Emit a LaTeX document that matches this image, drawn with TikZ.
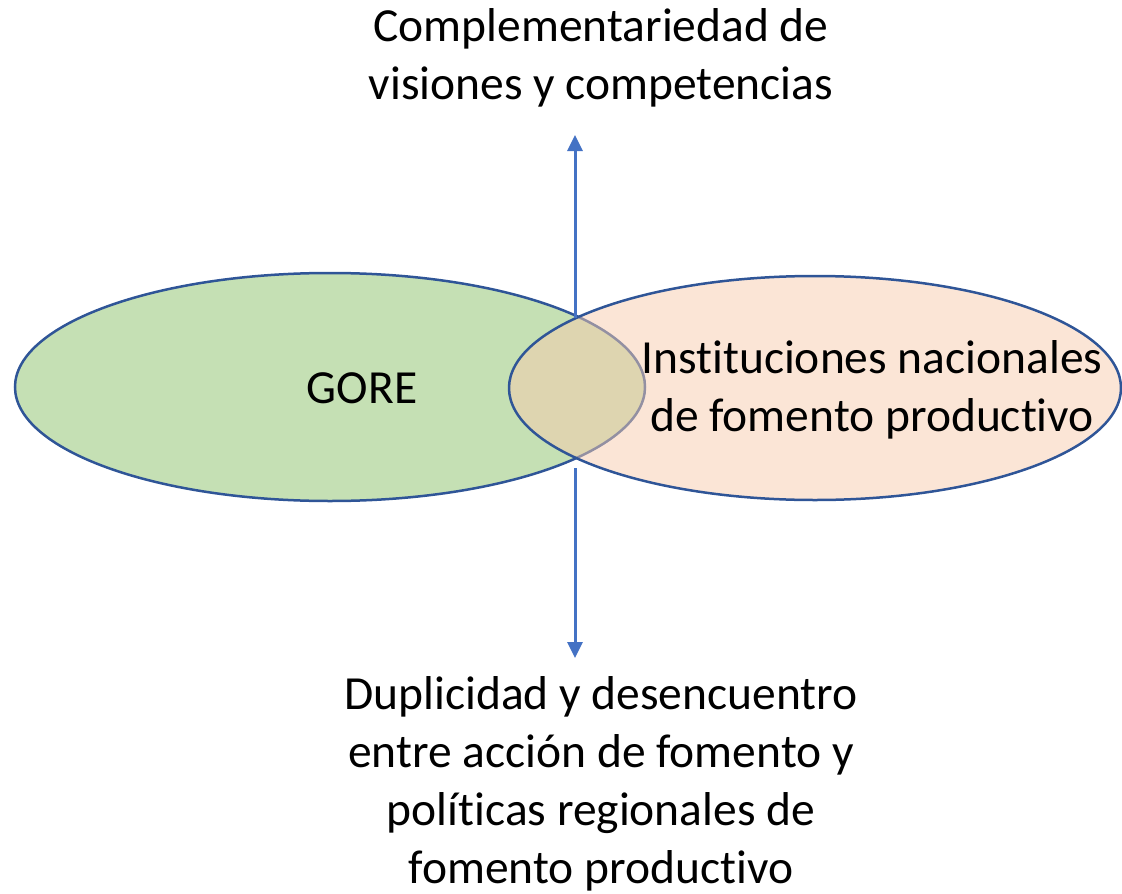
\documentclass[tikz,border=0pt]{standalone}
\usepackage{fontspec}
\setmainfont[Ligatures=NoCommon]{Carlito}
\usetikzlibrary{shapes.geometric,arrows.meta}
\definecolor{gfill}{HTML}{C5E0B4}
\definecolor{pfill}{HTML}{F8CBAD}
\definecolor{edge}{HTML}{2F5597}
\definecolor{arr}{HTML}{4472C4}
\tikzset{
  blob/.style={ellipse, draw=edge, line width=2.5pt, inner sep=0pt},
  lbl/.style={align=center, font=\fontsize{47.5}{58}\selectfont, inner sep=0pt},
  axis/.style={draw=arr, line width=3pt, -{Triangle[width=15pt,length=16pt]}}
}
\begin{document}
\begin{tikzpicture}[x=1pt,y=-1pt]
\useasboundingbox (0,0) rectangle (1122,894);
\node[blob, fill=gfill, minimum width=630pt, minimum height=228pt] (gore) at (330,387) {};
\node[blob, fill=pfill, fill opacity=0.5, minimum width=612pt, minimum height=224pt] (inst) at (815,388) {};
\coordinate (itop) at (575,318);
\coordinate (ibot) at (575,468);
\coordinate (atop) at (575,135);
\coordinate (abot) at (575,658);
\draw[axis] (itop) -- (atop);
\draw[axis] (ibot) -- (abot);
\node[lbl] (goretxt) at (362,388) {GORE};
\node[lbl] (insttxt) at (872,390) {Instituciones nacionales\\de fomento productivo};
\node[lbl] (toptxt) at (601,58) {Complementariedad de\\visiones y competencias};
\node[lbl] (bottxt) at (601,784) {Duplicidad y desencuentro\\entre acción de fomento y\\políticas regionales de\\fomento productivo};
\end{tikzpicture}
\end{document}
